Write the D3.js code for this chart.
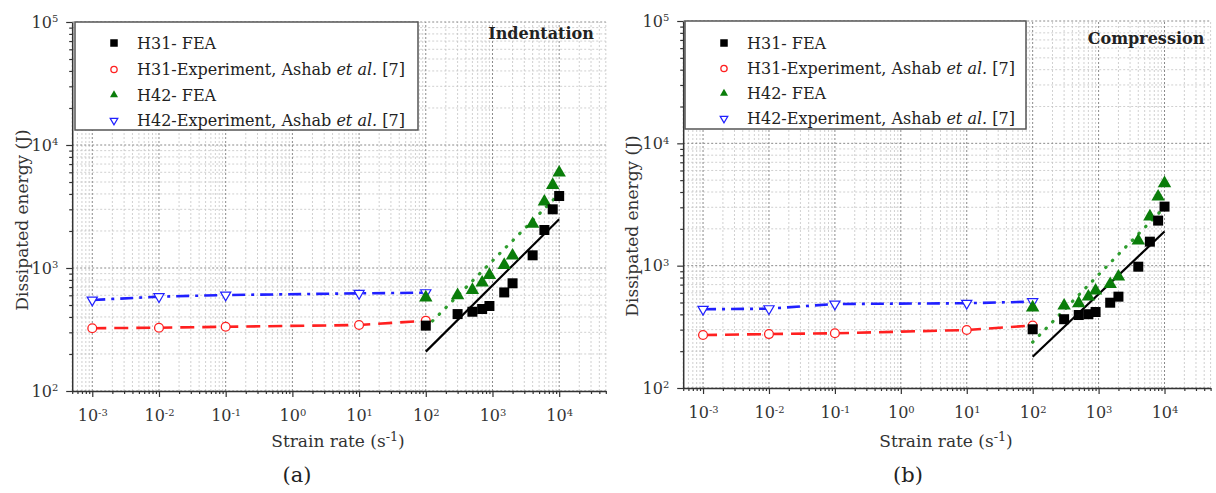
<!DOCTYPE html>
<html>
<head>
<meta charset="utf-8">
<script src="https://cdn.jsdelivr.net/npm/d3@7"></script>
<style>
  body { margin: 0; background: #fff; }
  svg { display: block; }
</style>
</head>
<body>
<svg id="chart" width="1216" height="493"></svg>
<script>
// Strain rates (s^-1)
const feaRates = [100, 300, 500, 700, 900, 1500, 2000, 4000, 6000, 8000, 10000];
const expRates = [0.001, 0.01, 0.1, 10, 100];
const fitRates = [100, 10000];

// Indentation: dissipated energy (J)
const indH31Fea = [340, 422, 441, 464, 491, 633, 751, 1268, 2037, 3000, 3848];
const indH42Fea = [575, 600, 662, 760, 877, 1057, 1260, 2280, 3458, 4729, 5958];
const indH31Exp = [324, 327, 333, 344, 373];
const indH42Exp = [549, 585, 603, 622, 630];
const indH31Fit = [209, 2490];
const indH42Fit = [327, 4000];

// Compression: dissipated energy (J)
const cmpH31Fea = [302, 365, 395, 401, 418, 498, 558, 981, 1571, 2335, 3039];
const cmpH42Fea = [454, 471, 492, 558, 625, 705, 813, 1600, 2519, 3666, 4713];
const cmpH31Exp = [271, 276, 280, 298, 324];
const cmpH42Exp = [440, 445, 486, 493, 508];
const cmpH31Fit = [180, 1900];
const cmpH42Fit = [237, 3000];

// Axis extents and tick decades
const xDomain = [5e-4, 5e4];
const yDomain = [1e2, 1e5];
const xDecades = [-3, -2, -1, 0, 1, 2, 3, 4];
const yDecades = [2, 3, 4, 5];

// Legend entries: [plain text, italic part, trailing text]
const legendLabels = [
  ["H31- FEA", "", ""],
  ["H31-Experiment, Ashab ", "et al.", " [7]"],
  ["H42- FEA", "", ""],
  ["H42-Experiment, Ashab ", "et al.", " [7]"]
];

const FONT = "'DejaVu Serif', serif";
const C = { black: "#000", red: "#ff2020", green: "#0a7d0a", dots: "#2f9e2f", blue: "#2020ff" };

const panels = [
  {
    title: "Indentation", letter: "(a)",
    h31Fea: indH31Fea, h42Fea: indH42Fea, h31Exp: indH31Exp, h42Exp: indH42Exp,
    h31Fit: indH31Fit, h42Fit: indH42Fit,
    xr: [72.2, 605.8], yr: [391, 22],
    titlePos: [541, 39], legend: { x0: 75, x1: 418, y0: 22, y1: 130, mx: 114, tx: 137, rows: [43, 69.5, 95, 120.5] },
    yLab: [28, 220], xLab: [338, 447], letterPos: [297, 482]
  },
  {
    title: "Compression", letter: "(b)",
    h31Fea: cmpH31Fea, h42Fea: cmpH42Fea, h31Exp: cmpH31Exp, h42Exp: cmpH42Exp,
    h31Fit: cmpH31Fit, h42Fit: cmpH42Fit,
    xr: [683.2, 1210.6], yr: [388, 21],
    titlePos: [1146, 44], legend: { x0: 685, x1: 1026, y0: 21, y1: 129, mx: 724, tx: 747, rows: [43, 68.5, 93.5, 118.5] },
    yLab: [638, 226], xLab: [946, 447], letterPos: [908, 482]
  }
];

const svg = d3.select("#chart");

function minorValues(decades, domain) {
  const out = [];
  for (let e = decades[0] - 1; e <= decades[decades.length - 1]; e++) {
    for (let k = 2; k <= 9; k++) {
      const v = k * Math.pow(10, e);
      if (v >= domain[0] * 0.999 && v <= domain[1] * 1.001) out.push(v);
    }
  }
  return out;
}

function powerLabel(sel, v) {
  const e = Math.round(Math.log10(v));
  sel.text(null);
  sel.append("tspan").text("10");
  sel.append("tspan").attr("font-size", "0.62em").attr("dy", "-0.55em").text(String(e));
}

function marker(g, type, x, y, s) {
  if (type === "square") {
    g.append("rect").attr("x", x - s / 2).attr("y", y - s / 2).attr("width", s).attr("height", s).attr("fill", C.black);
  } else if (type === "circle") {
    g.append("circle").attr("cx", x).attr("cy", y).attr("r", s / 2 - 0.6)
      .attr("fill", "#fff").attr("stroke", C.red).attr("stroke-width", 1.3);
  } else if (type === "up") {
    g.append("path").attr("d", d3.symbol(d3.symbolTriangle, s * s * 0.5)())
      .attr("transform", `translate(${x},${y})`).attr("fill", C.green);
  } else if (type === "down") {
    g.append("path").attr("d", d3.symbol(d3.symbolTriangle, s * s * 0.45)())
      .attr("transform", `translate(${x},${y}) rotate(180)`)
      .attr("fill", "#fff").attr("stroke", C.blue).attr("stroke-width", 1.2);
  }
}

panels.forEach(p => {
  const x = d3.scaleLog().domain(xDomain).range(p.xr);
  const y = d3.scaleLog().domain(yDomain).range(p.yr);
  const g = svg.append("g");

  const xMajor = xDecades.map(e => Math.pow(10, e));
  const yMajor = yDecades.map(e => Math.pow(10, e));
  const xMinor = minorValues(xDecades, xDomain);
  const yMinor = minorValues(yDecades.slice(0, -1), yDomain);

  // grid
  const grid = g.append("g");
  xMinor.forEach(v => grid.append("line").attr("x1", x(v)).attr("x2", x(v)).attr("y1", p.yr[0]).attr("y2", p.yr[1])
    .attr("stroke", "#c4c4c4").attr("stroke-width", 0.8).attr("stroke-dasharray", "2,2"));
  yMinor.forEach(v => grid.append("line").attr("y1", y(v)).attr("y2", y(v)).attr("x1", p.xr[0]).attr("x2", p.xr[1])
    .attr("stroke", "#c4c4c4").attr("stroke-width", 0.8).attr("stroke-dasharray", "2,2"));
  xMajor.forEach(v => grid.append("line").attr("x1", x(v)).attr("x2", x(v)).attr("y1", p.yr[0]).attr("y2", p.yr[1])
    .attr("stroke", "#8a8a8a").attr("stroke-width", 1).attr("stroke-dasharray", "2,2"));
  yMajor.forEach(v => grid.append("line").attr("y1", y(v)).attr("y2", y(v)).attr("x1", p.xr[0]).attr("x2", p.xr[1])
    .attr("stroke", "#8a8a8a").attr("stroke-width", 1).attr("stroke-dasharray", "2,2"));

  // axes
  const gx = g.append("g").attr("transform", `translate(0,${p.yr[0]})`);
  gx.append("g").call(d3.axisBottom(x).tickValues(xMinor).tickSize(3).tickSizeOuter(0).tickFormat(""))
    .call(a => a.select(".domain").remove());
  const gxm = gx.append("g").call(d3.axisBottom(x).tickValues(xMajor).tickSize(6).tickSizeOuter(0).tickPadding(13));
  gxm.selectAll(".tick text").each(function (v) { powerLabel(d3.select(this), v); });

  const gy = g.append("g").attr("transform", `translate(${p.xr[0]},0)`);
  gy.append("g").call(d3.axisLeft(y).tickValues(yMinor).tickSize(3).tickSizeOuter(0).tickFormat(""))
    .call(a => a.select(".domain").remove());
  const gym = gy.append("g").call(d3.axisLeft(y).tickValues(yMajor).tickSize(6).tickSizeOuter(0).tickPadding(8));
  gym.selectAll(".tick text").each(function (v) { powerLabel(d3.select(this), v); });

  [gx, gy].forEach(a => {
    a.selectAll("line").attr("stroke", "#333").attr("stroke-width", 1.2);
    a.selectAll(".domain").attr("stroke", "#333").attr("stroke-width", 1.5);
    a.selectAll("text").attr("font-family", FONT).attr("font-size", 16).attr("fill", "#333");
  });

  // fitted trend and experiment lines
  const line = d3.line().x(d => x(d[0])).y(d => y(d[1]));
  g.append("path").attr("d", line(expRates.map((r, i) => [r, p.h31Exp[i]])))
    .attr("fill", "none").attr("stroke", C.red).attr("stroke-width", 2.6).attr("stroke-dasharray", "14,8");
  g.append("path").attr("d", line(expRates.map((r, i) => [r, p.h42Exp[i]])))
    .attr("fill", "none").attr("stroke", C.blue).attr("stroke-width", 2.6).attr("stroke-dasharray", "13,6,3,6");
  g.append("path").attr("d", line(fitRates.map((r, i) => [r, p.h42Fit[i]])))
    .attr("fill", "none").attr("stroke", C.dots).attr("stroke-width", 3.2).attr("stroke-linecap", "round")
    .attr("stroke-dasharray", "0.5,9");
  g.append("path").attr("d", line(fitRates.map((r, i) => [r, p.h31Fit[i]])))
    .attr("fill", "none").attr("stroke", C.black).attr("stroke-width", 2.2);

  // markers
  const mk = g.append("g");
  expRates.forEach((r, i) => marker(mk, "down", x(r), y(p.h42Exp[i]), 10));
  expRates.forEach((r, i) => marker(mk, "circle", x(r), y(p.h31Exp[i]), 10));
  feaRates.forEach((r, i) => marker(mk, "up", x(r), y(p.h42Fea[i]), 12.5));
  feaRates.forEach((r, i) => marker(mk, "square", x(r), y(p.h31Fea[i]), 10));

  // legend
  const L = p.legend;
  const lg = g.append("g");
  lg.append("rect").attr("x", L.x0).attr("y", L.y0).attr("width", L.x1 - L.x0).attr("height", L.y1 - L.y0)
    .attr("fill", "#fff").attr("stroke", "#555").attr("stroke-width", 1.5);
  const types = ["square", "circle", "up", "down"];
  types.forEach((t, i) => marker(lg, t, L.mx, L.rows[i], 7.5));
  legendLabels.forEach((parts, i) => {
    const t = lg.append("text").attr("x", L.tx).attr("y", L.rows[i]).attr("dy", "0.36em")
      .attr("font-family", FONT).attr("font-size", 16).attr("fill", "#222");
    t.append("tspan").text(parts[0]);
    if (parts[1]) t.append("tspan").attr("font-style", "italic").text(parts[1]);
    if (parts[2]) t.append("tspan").text(parts[2]);
  });

  // titles and labels
  g.append("text").attr("x", p.titlePos[0]).attr("y", p.titlePos[1]).attr("text-anchor", "middle")
    .attr("font-family", FONT).attr("font-size", 16).attr("font-weight", "bold").attr("fill", "#222").text(p.title);

  const xl = g.append("text").attr("x", p.xLab[0]).attr("y", p.xLab[1]).attr("text-anchor", "middle")
    .attr("font-family", FONT).attr("font-size", 17).attr("fill", "#333");
  xl.append("tspan").text("Strain rate (s");
  xl.append("tspan").attr("font-size", "0.75em").attr("dy", "-0.5em").text("-1");
  xl.append("tspan").attr("dy", "0.37em").text(")");

  g.append("text").attr("transform", `translate(${p.yLab[0]},${p.yLab[1]}) rotate(-90)`).attr("text-anchor", "middle")
    .attr("font-family", FONT).attr("font-size", 17).attr("fill", "#333").text("Dissipated energy (J)");

  g.append("text").attr("x", p.letterPos[0]).attr("y", p.letterPos[1]).attr("text-anchor", "middle")
    .attr("font-family", FONT).attr("font-size", 21).attr("fill", "#222").text(p.letter);
});
</script>
</body>
</html>
